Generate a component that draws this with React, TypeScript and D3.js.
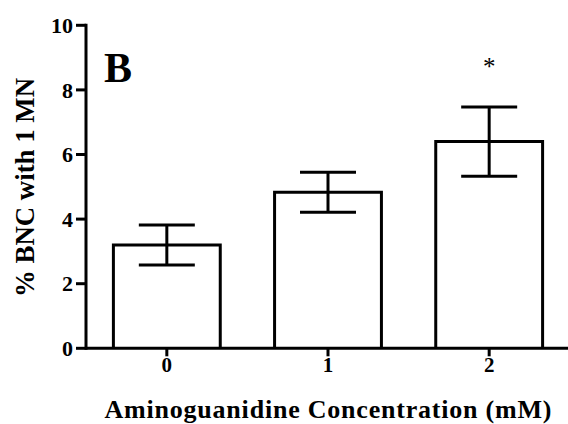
import React from "react";
import * as d3 from "d3";

const categories = ["0", "1", "2"];
const means = [3.2, 4.83, 6.4];
const sems = [0.62, 0.62, 1.07];
const significance = ["", "", "*"];
const yTicks = [0, 2, 4, 6, 8, 10];

const W = 568;
const H = 424;
const x0 = 86;
const x1 = 570;
const yBottom = 348.3;
const yTop = 25.3;
const FONT = "'Liberation Serif', 'Times New Roman', serif";

export default function App() {
  const x = d3
    .scaleBand<string>()
    .domain(categories)
    .range([x0, x1])
    .paddingInner(0.337)
    .paddingOuter(0.17);
  const y = d3.scaleLinear().domain([0, 10]).range([yBottom, yTop]);
  const bw = x.bandwidth();
  const capW = 56;
  const sw = 3;

  return (
    <svg
      width={W}
      height={H}
      style={{ position: "absolute", left: 0, top: 0, background: "#fff" }}
      fontFamily={FONT}
    >
      <rect width={W} height={H} fill="#fff" />
      {/* bars */}
      {categories.map((c, i) => {
        const bx = x(c)!;
        const cx = bx + bw / 2;
        const top = y(means[i]);
        const hi = y(means[i] + sems[i]);
        const lo = y(means[i] - sems[i]);
        return (
          <g key={c} stroke="#000" strokeWidth={sw} fill="none">
            <path d={`M${bx},${y(0)}V${top}H${bx + bw}V${y(0)}`} fill="#fff" />
            <line x1={cx} x2={cx} y1={hi} y2={lo} />
            <line x1={cx - capW / 2} x2={cx + capW / 2} y1={hi} y2={hi} />
            <line x1={cx - capW / 2} x2={cx + capW / 2} y1={lo} y2={lo} />
            {significance[i] && (
              <text
                x={cx}
                y={y(8) - 15}
                textAnchor="middle"
                fontSize={25}
                stroke="none"
                fill="#000"
              >
                {significance[i]}
              </text>
            )}
          </g>
        );
      })}
      {/* y axis */}
      <g stroke="#000" strokeWidth={sw}>
        <line x1={x0} x2={x0} y1={y(10) - 1.5} y2={y(0) + 1.5} />
        {yTicks.map((t) => (
          <line key={t} x1={x0 - 10} x2={x0} y1={y(t)} y2={y(t)} />
        ))}
      </g>
      {yTicks.map((t) => (
        <text
          key={t}
          x={x0 - 13}
          y={y(t)}
          dy="0.35em"
          textAnchor="end"
          fontSize={22}
          fontWeight="bold"
        >
          {t}
        </text>
      ))}
      {/* x axis */}
      <g stroke="#000" strokeWidth={sw}>
        <line x1={x0} x2={W} y1={y(0)} y2={y(0)} />
        {categories.map((c) => {
          const cx = x(c)! + bw / 2;
          return <line key={c} x1={cx} x2={cx} y1={y(0)} y2={y(0) + 8} />;
        })}
      </g>
      {categories.map((c) => (
        <text
          key={c}
          x={x(c)! + bw / 2}
          y={372}
          textAnchor="middle"
          fontSize={21}
          fontWeight="bold"
        >
          {c}
        </text>
      ))}
      <text
        x={328}
        y={418}
        textAnchor="middle"
        fontSize={26}
        fontWeight="bold"
        textLength={447}
        lengthAdjust="spacing"
      >
        Aminoguanidine Concentration (mM)
      </text>
      <text
        transform={`translate(33.5,187.5) rotate(-90)`}
        textAnchor="middle"
        fontSize={27}
        fontWeight="bold"
        textLength={219}
        lengthAdjust="spacingAndGlyphs"
      >
        % BNC with 1 MN
      </text>
      <text x={104} y={82} fontSize={42} fontWeight="bold">
        B
      </text>
    </svg>
  );
}
